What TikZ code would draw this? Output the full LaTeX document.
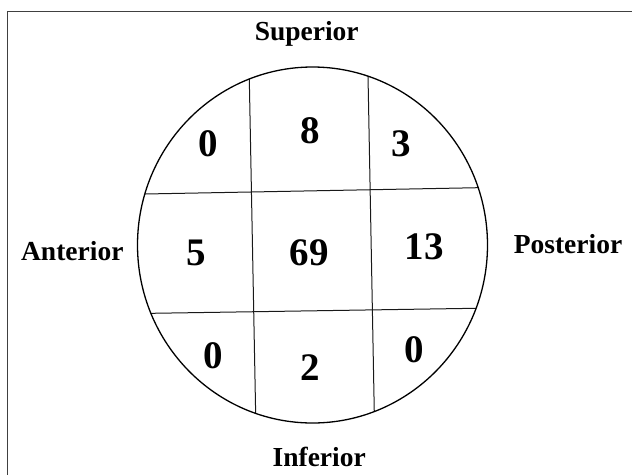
\documentclass[tikz,border=0pt]{standalone}
\usepackage{fontspec}
\setmainfont{Liberation Serif}
\begin{document}
\begin{tikzpicture}[x=1pt,y=-1pt,
  lbl/.style={font=\fontsize{27.5}{30}\selectfont\bfseries, anchor=base, inner sep=0pt},
  num/.style={font=\fontsize{39}{42}\selectfont\bfseries, anchor=base, inner sep=0pt},
  gridline/.style={line width=1pt, black!90},
  framecol/.style={line width=1.5pt, black!75}]
\useasboundingbox (0,0) rectangle (632,475);
% frame (only top and left edges visible)
\draw[framecol] (632,11.7) -- (7.3,11.7) -- (7.3,475);
% grid clipped to the ellipse
\begin{scope}
  \clip (312.5,245) ellipse [x radius=175, y radius=178];
  \draw[gridline] (247.8,0) -- (259.0,590);
  \draw[gridline] (366.6,0) -- (377.6,590);
  \draw[gridline] (100,194.85) -- (520,186.9);
  \draw[gridline] (100,314.1) -- (520,307.6);
\end{scope}
\draw[line width=1.3pt] (312.5,245) ellipse [x radius=175, y radius=178];
% labels
\node[lbl] (sup) at (306.7,40) {Superior};
\node[lbl] (inf) at (319.2,466.7) {Inferior};
\node[lbl] (ant) at (72.3,260) {Anterior};
\node[lbl] (post) at (568,253.3) {Posterior};
% numbers
\node[num] (n11) at (208,156) {0};
\node[num] (n12) at (310.7,143.3) {8};
\node[num] (n13) at (401,156.7) {3};
\node[num] (n21) at (196,265) {5};
\node[num] (n22) at (309.3,265) {69};
\node[num] (n23) at (424,259.3) {13};
\node[num] (n31) at (213.3,368.3) {0};
\node[num] (n32) at (310,380) {2};
\node[num] (n33) at (414.5,362.7) {0};
\end{tikzpicture}
\end{document}
